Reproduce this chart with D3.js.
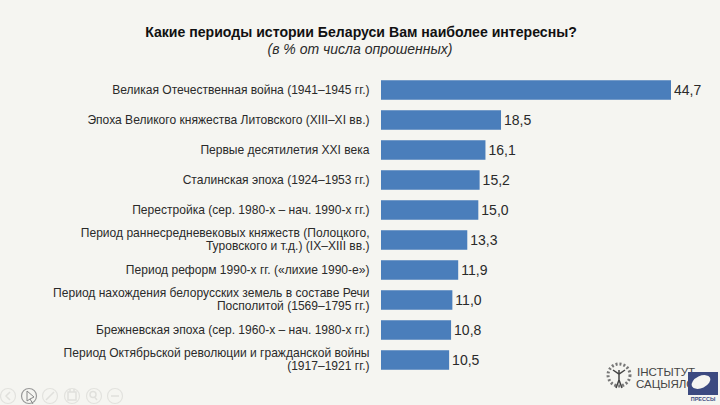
<!DOCTYPE html>
<html>
<head>
<meta charset="utf-8">
<script src="https://cdnjs.cloudflare.com/ajax/libs/d3/7.8.5/d3.min.js"></script>
<style>
  html, body { margin: 0; padding: 0; background: #f5f5f1; overflow: hidden; }
  text { font-family: "Liberation Sans", Arial, sans-serif; fill: #2a2a2a; }
</style>
</head>
<body>
<div id="chart"></div>
<script>
var categories = [
  ['Великая Отечественная война (1941–1945 гг.)'],
  ['Эпоха Великого княжества Литовского (XIII–XI вв.)'],
  ['Первые десятилетия XXI века'],
  ['Сталинская эпоха (1924–1953 гг.)'],
  ['Перестройка (сер. 1980-х – нач. 1990-х гг.)'],
  ['Период раннесредневековых княжеств (Полоцкого,', 'Туровского и т.д.) (IX–XIII вв.)'],
  ['Период реформ 1990-х гг. («лихие 1990-е»)'],
  ['Период нахождения белорусских земель в составе Речи', 'Посполитой (1569–1795 гг.)'],
  ['Брежневская эпоха (сер. 1960-х – нач. 1980-х гг.)'],
  ['Период Октябрьской революции и гражданской войны', '(1917–1921 гг.)']
];
var values = [44.7, 18.5, 16.1, 15.2, 15.0, 13.3, 11.9, 11.0, 10.8, 10.5];
var title = 'Какие периоды истории Беларуси Вам наиболее интересны?';
var subtitle = '(в % от числа опрошенных)';

var width = 720, height = 405;

var svg = d3.select('#chart')
  .append('svg')
  .attr('width', width)
  .attr('height', height);

var x = d3.scaleLinear().domain([0, 44.7]).range([381, 671]);
var y = d3.scaleBand().domain(d3.range(values.length)).range([75, 375]).paddingInner(0.35).paddingOuter(0.175);
var format = function(v) { return d3.format('.1f')(v).replace('.', ','); };

svg.append('text')
  .attr('x', 361).attr('y', 37)
  .attr('text-anchor', 'middle')
  .style('font-size', '14.1px')
  .style('font-weight', 'bold')
  .style('fill', '#111')
  .text(title);

svg.append('text')
  .attr('x', 360).attr('y', 54)
  .attr('text-anchor', 'middle')
  .style('font-size', '14px')
  .style('font-style', 'italic')
  .text(subtitle);

svg.selectAll('rect.bar')
  .data(values)
  .enter().append('rect')
  .attr('class', 'bar')
  .attr('x', x(0))
  .attr('y', function(d, i) { return y(i); })
  .attr('width', function(d) { return x(d) - x(0); })
  .attr('height', y.bandwidth())
  .attr('fill', '#4a7ebb');

svg.selectAll('text.value')
  .data(values)
  .enter().append('text')
  .attr('class', 'value')
  .attr('x', function(d) { return x(d) + 3; })
  .attr('y', function(d, i) { return y(i) + y.bandwidth() / 2 + 5; })
  .style('font-size', '14px')
  .text(format);

var labels = svg.selectAll('text.label')
  .data(categories)
  .enter().append('text')
  .attr('class', 'label')
  .attr('text-anchor', 'end')
  .style('font-size', '12.05px');

labels.each(function(lines, i) {
  var mid = y(i) + y.bandwidth() / 2;
  d3.select(this).selectAll('tspan')
    .data(lines)
    .enter().append('tspan')
    .attr('x', 369.5)
    .attr('y', function(d, k) { return mid + 3.5 + (k - (lines.length - 1) / 2) * 13.5; })
    .text(function(d) { return d; });
});

// slide show toolbar, bottom left
var tools = [8, 29, 50, 72, 94, 115];
var toolbar = svg.append('g');
toolbar.selectAll('circle')
  .data(tools)
  .enter().append('circle')
  .attr('cx', function(d) { return d; })
  .attr('cy', 396)
  .attr('r', 7.5)
  .attr('fill', 'none')
  .attr('stroke', function(d, i) { return i == 1 ? '#999' : '#e2e2de'; })
  .attr('stroke-width', 1.2);
toolbar.append('path')
  .attr('d', 'M27 391 L27 401 L30 399 L33 404 M27 391 L34 397 L30 399')
  .attr('fill', 'none')
  .attr('stroke', '#888');
toolbar.append('path')
  .attr('d', 'M10 392 L6 396 L10 400 M46 400 L54 392 M68 392 h8 v8 h-8 z M70 389 v3 M74 389 v3 M97 400 L94.5 397 M111 396 h8')
  .attr('fill', 'none')
  .attr('stroke', '#e0e0dc')
  .attr('stroke-width', 1.5);
toolbar.append('circle')
  .attr('cx', 93).attr('cy', 394.5).attr('r', 3)
  .attr('fill', 'none').attr('stroke', '#e0e0dc').attr('stroke-width', 1.5);

// logo
var logo = svg.append('g');
var tree = logo.append('g').attr('stroke', '#444').attr('fill', 'none');
tree.append('circle').attr('cx', 619).attr('cy', 375).attr('r', 11).attr('stroke-dasharray', '2 2').attr('stroke-width', 3).attr('stroke', '#777');
tree.append('path').attr('d', 'M619 370 L619 380 M619 380 L616 388 M619 380 L622 388 M613 370 L619 374 L625 370').attr('stroke-width', 1.5);
logo.append('text').attr('x', 637).attr('y', 376).style('font-size', '11.5px').style('fill', '#444').text('ІНСТЫТУТ');
logo.append('text').attr('x', 636).attr('y', 388).style('font-size', '11.5px').style('fill', '#444').text('САЦЫЯЛО');
logo.append('rect').attr('x', 688).attr('y', 372).attr('width', 30).attr('height', 23).attr('fill', '#3c4a80');
logo.append('ellipse').attr('cx', 701).attr('cy', 382).attr('rx', 10).attr('ry', 6).attr('fill', '#f5f5f1').attr('transform', 'rotate(-25 701 382)');
logo.append('text').attr('x', 703).attr('y', 401).attr('text-anchor', 'middle').style('font-size', '5.5px').style('font-weight', 'bold').style('fill', '#3c4a80').text('ПРЕССЫ');
</script>
</body>
</html>
